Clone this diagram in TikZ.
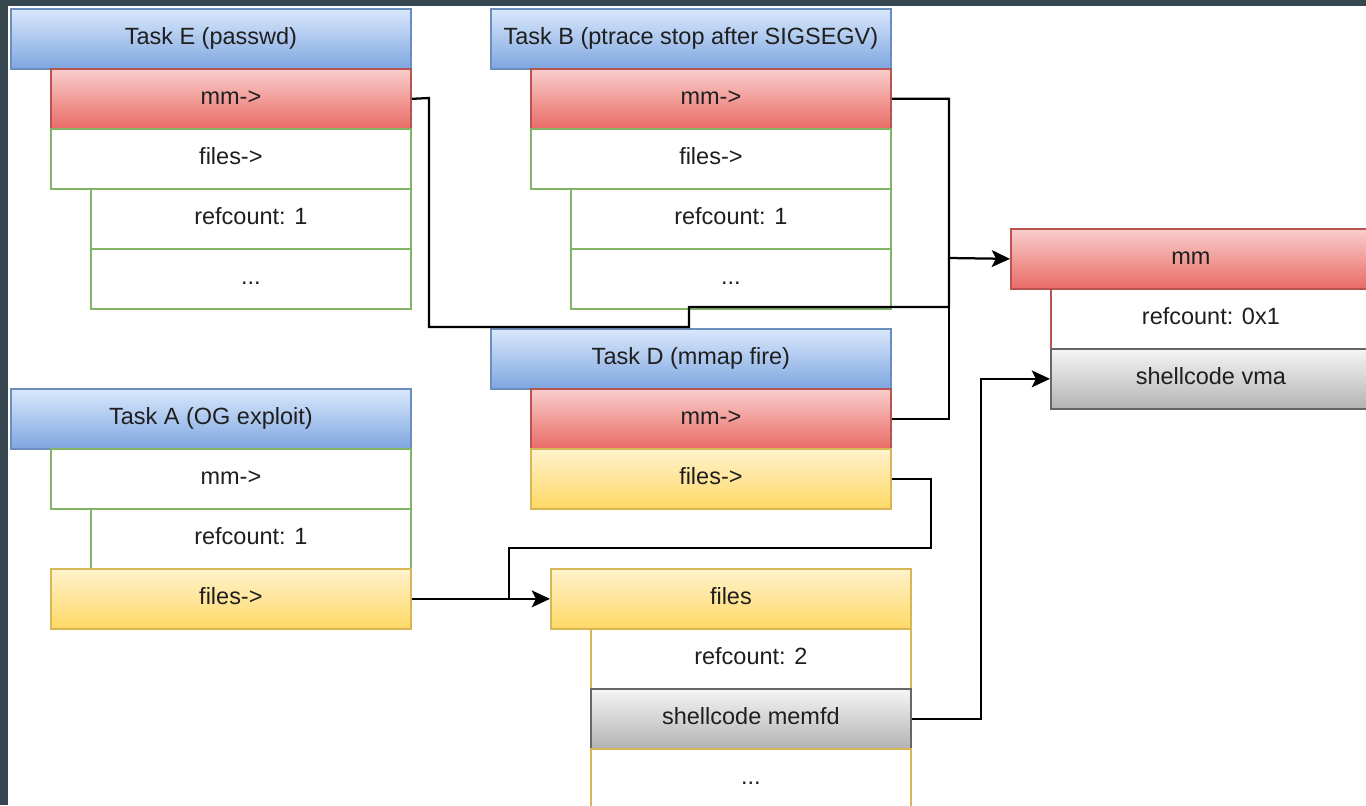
\documentclass[tikz,border=0pt]{standalone}
\usepackage{fontspec}
\setmainfont{Liberation Sans}
\usepackage{xcolor}
\usepackage{tikz}
\usetikzlibrary{arrows.meta}
\definecolor{frame}{RGB}{55, 71, 79}
\definecolor{blueTop}{HTML}{DAE8FC}
\definecolor{blueBot}{HTML}{7EA6E0}
\definecolor{blueLine}{HTML}{6C8EBF}
\definecolor{redTop}{HTML}{F8CECC}
\definecolor{redBot}{HTML}{EA6B66}
\definecolor{redLine}{HTML}{B85450}
\definecolor{yellowTop}{HTML}{FFF2CC}
\definecolor{yellowBot}{HTML}{FFD966}
\definecolor{yellowLine}{HTML}{D6B656}
\definecolor{grayTop}{HTML}{F5F5F5}
\definecolor{grayBot}{HTML}{B3B3B3}
\definecolor{grayLine}{HTML}{666666}
\definecolor{greenLine}{HTML}{82B366}

\begin{document}
\begin{tikzpicture}[x=0.025cm, y=-0.025cm, >={Stealth[length=13pt, width=12pt, inset=3pt]},
  cell/.style={draw, rectangle, anchor=north west, minimum height=1.5cm, inner sep=0pt,
    text height=12pt, text depth=3.5pt,
    line width=1.2pt, font=\fontsize{16.7}{20}\selectfont, text=black!88},
  head/.style={cell, minimum width=10cm, draw=blueLine, top color=blueTop, bottom color=blueBot},
  wide/.style={cell, minimum width=9cm},
  narrow/.style={cell, minimum width=8cm},
  redcell/.style={draw=redLine, top color=redTop, bottom color=redBot},
  yelcell/.style={draw=yellowLine, top color=yellowTop, bottom color=yellowBot},
  graycell/.style={draw=grayLine, top color=grayTop, bottom color=grayBot},
  plain/.style={draw=greenLine, fill=white},
  wire/.style={line width=1.6pt, black}]
  % Background
  \useasboundingbox (0,0) rectangle (1366,805);
  \fill[frame] (0,0) rectangle (1366,805);
  \fill[white] (8,6) rectangle (1366,805);

  % Task E
  \node[head] (Ehead) at (10,8) {Task E (passwd)};
  \node[wide, redcell] (Emm) at (50,68) {mm->};
  \node[wide, plain] (Efiles) at (50,128) {files->};
  \node[narrow, plain] (Eref) at (90,188) {refcount: 1};
  \node[narrow, plain] (Edots) at (90,248) {...};

  % Task B
  \node[head] (Bhead) at (490,8) {Task B (ptrace stop after SIGSEGV)};
  \node[wide, redcell] (Bmm) at (530,68) {mm->};
  \node[wide, plain] (Bfiles) at (530,128) {files->};
  \node[narrow, plain] (Bref) at (570,188) {refcount: 1};
  \node[narrow, plain] (Bdots) at (570,248) {...};

  % Task D
  \node[head] (Dhead) at (490,328) {Task D (mmap fire)};
  \node[wide, redcell] (Dmm) at (530,388) {mm->};
  \node[wide, yelcell] (Dfiles) at (530,448) {files->};

  % Task A
  \node[head] (Ahead) at (10,388) {Task A (OG exploit)};
  \node[wide, plain] (Amm) at (50,448) {mm->};
  \node[narrow, plain] (Aref) at (90,508) {refcount: 1};
  \node[wide, yelcell] (Afiles) at (50,568) {files->};

  % shared files struct
  \node[wide, yelcell] (filesHead) at (550,568) {files};
  \node[narrow, draw=yellowLine, fill=white] (filesRef) at (590,628) {refcount: 2};
  \node[narrow, graycell] (memfd) at (590,688) {shellcode memfd};
  \node[narrow, draw=yellowLine, fill=white] (filesDots) at (590,748) {...};

  % shared mm struct
  \node[wide, redcell] (mmHead) at (1010,228) {mm};
  \node[narrow, draw=redLine, fill=white] (mmRef) at (1050,288) {refcount: 0x1};
  \node[narrow, graycell] (vma) at (1050,348) {shellcode vma};

  % mm pointers
  \coordinate (bus) at (949,258);
  \draw[wire, ->] (Bmm.east) -| (bus) -- (mmHead.west);
  \draw[wire] (Dmm.east) -| (bus);
  \draw[wire] (Emm.east) -- (429,98) -- (429,327) -- (689,327) -- (689,307) -- (949,307) -- (bus);

  % files pointers
  \draw[wire, ->] (Afiles.east) -- (filesHead.west);
  \draw[wire] (Dfiles.east) -- ++(39,0) |- (509,548) -- (509,598);

  % memfd mapped as vma
  \draw[wire, ->] (memfd.east) -- ++(69,0) |- (vma.west);
\end{tikzpicture}
\end{document}
